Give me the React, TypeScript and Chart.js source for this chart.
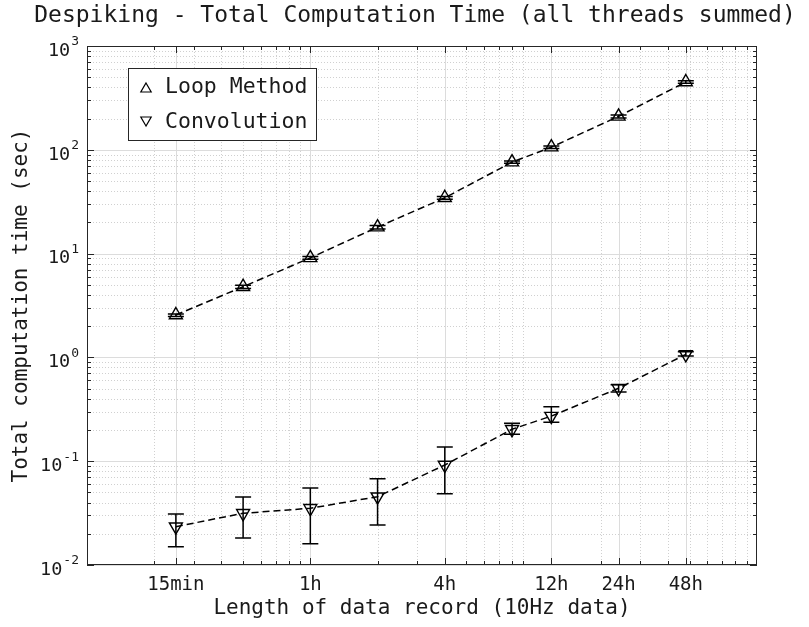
import React, { useEffect, useRef } from 'react';
import { Chart, registerables } from 'chart.js';

Chart.register(...registerables);

// ---- data ----
const xHours = [0.25, 0.5, 1, 2, 4, 8, 12, 24, 48];
const xTickValues = [0.25, 1, 4, 12, 24, 48];
const xTickLabels = ['15min', '1h', '4h', '12h', '24h', '48h'];
const yTickExponents = [-2, -1, 0, 1, 2, 3];

const loopMean = [2.56, 4.8, 9.1, 18.0, 34.5, 76, 106, 210, 450];
const loopLow = [2.48, 4.62, 8.8, 17.3, 33.4, 74, 103, 203, 437];
const loopHigh = [2.62, 4.95, 9.4, 18.6, 35.5, 78, 109, 216, 462];

const convMean = [0.0234, 0.0315, 0.0352, 0.0455, 0.0919, 0.203, 0.272, 0.504, 1.07];
const convLow = [0.015, 0.0182, 0.016, 0.0243, 0.0486, 0.182, 0.237, 0.464, 1.03];
const convHigh = [0.031, 0.0452, 0.0552, 0.0678, 0.137, 0.232, 0.335, 0.546, 1.135];

const seriesNames = ['Loop Method', 'Convolution'];
const titleText = 'Despiking - Total Computation Time (all threads summed)';
const xAxisTitle = 'Length of data record (10Hz data)';
const yAxisTitle = 'Total computation time (sec)';

const FONT = '"DejaVu Sans Mono", "Liberation Mono", monospace';
const TXT = '#1a1a1a';
const AX = '#262626';

function triPath(ctx: CanvasRenderingContext2D, x: number, y: number, r: number, down: boolean) {
  let rad = down ? Math.PI : 0;
  ctx.beginPath();
  for (let i = 0; i < 3; i++) {
    const px = x + Math.sin(rad) * r;
    const py = y - Math.cos(rad) * r;
    if (i === 0) ctx.moveTo(px, py); else ctx.lineTo(px, py);
    rad += (2 * Math.PI) / 3;
  }
  ctx.closePath();
}

const decorPlugin = {
  id: 'decor',
  beforeDraw(chart: any) {
    const ctx = chart.ctx;
    ctx.save();
    ctx.fillStyle = '#ffffff';
    ctx.fillRect(0, 0, chart.width, chart.height);
    ctx.restore();
  },
  beforeDatasetsDraw(chart: any) {
    const ctx = chart.ctx as CanvasRenderingContext2D;
    const { left, right, top, bottom } = chart.chartArea;
    const xs = chart.scales.x;
    const ys = chart.scales.y;
    ctx.save();
    // minor grid (dotted)
    ctx.strokeStyle = '#d0d0d0';
    ctx.lineWidth = 1;
    ctx.setLineDash([1, 2]);
    for (let n = -1; n <= 1; n++) {
      for (let k = 2; k <= 9; k++) {
        const v = k * Math.pow(10, n);
        if (xTickValues.some((t) => Math.abs(t - v) < 1e-9)) continue;
        const px = Math.round(xs.getPixelForValue(v)) + 0.5;
        ctx.beginPath(); ctx.moveTo(px, top); ctx.lineTo(px, bottom); ctx.stroke();
      }
    }
    for (let n = -2; n <= 2; n++) {
      for (let k = 2; k <= 9; k++) {
        const v = k * Math.pow(10, n);
        const py = Math.round(ys.getPixelForValue(v)) + 0.5;
        ctx.beginPath(); ctx.moveTo(left, py); ctx.lineTo(right, py); ctx.stroke();
      }
    }
    // major grid (solid)
    ctx.setLineDash([]);
    ctx.strokeStyle = '#dcdcdc';
    xTickValues.forEach((v) => {
      const px = Math.round(xs.getPixelForValue(v)) + 0.5;
      ctx.beginPath(); ctx.moveTo(px, top); ctx.lineTo(px, bottom); ctx.stroke();
    });
    yTickExponents.forEach((e) => {
      const py = Math.round(ys.getPixelForValue(Math.pow(10, e))) + 0.5;
      ctx.beginPath(); ctx.moveTo(left, py); ctx.lineTo(right, py); ctx.stroke();
    });
    ctx.restore();
  },
  afterDatasetsDraw(chart: any) {
    const ctx = chart.ctx as CanvasRenderingContext2D;
    const { left, right, top, bottom } = chart.chartArea;
    const xs = chart.scales.x;
    const ys = chart.scales.y;
    ctx.save();
    // error bars
    ctx.strokeStyle = '#000000';
    ctx.lineWidth = 1.5;
    ctx.setLineDash([]);
    const cap = 8;
    const drawErr = (lo: number[], hi: number[]) => {
      xHours.forEach((xv, i) => {
        const px = xs.getPixelForValue(xv);
        const pl = ys.getPixelForValue(lo[i]);
        const ph = ys.getPixelForValue(hi[i]);
        ctx.beginPath();
        ctx.moveTo(px, pl); ctx.lineTo(px, ph);
        ctx.moveTo(px - cap, pl); ctx.lineTo(px + cap, pl);
        ctx.moveTo(px - cap, ph); ctx.lineTo(px + cap, ph);
        ctx.stroke();
      });
    };
    drawErr(loopLow, loopHigh);
    drawErr(convLow, convHigh);

    // axes box
    ctx.strokeStyle = AX;
    ctx.lineWidth = 1;
    ctx.strokeRect(left + 0.5, top + 0.5, right - left - 1, bottom - top - 1);

    // ticks
    ctx.beginPath();
    const xTick = (v: number, len: number) => {
      const px = Math.round(xs.getPixelForValue(v)) + 0.5;
      ctx.moveTo(px, bottom); ctx.lineTo(px, bottom - len);
      ctx.moveTo(px, top); ctx.lineTo(px, top + len);
    };
    const yTick = (v: number, len: number) => {
      const py = Math.round(ys.getPixelForValue(v)) + 0.5;
      ctx.moveTo(left, py); ctx.lineTo(left + len, py);
      ctx.moveTo(right, py); ctx.lineTo(right - len, py);
    };
    for (let n = -1; n <= 1; n++) for (let k = 2; k <= 9; k++) xTick(k * Math.pow(10, n), 4);
    xTickValues.forEach((v) => xTick(v, 7));
    for (let n = -2; n <= 2; n++) for (let k = 2; k <= 9; k++) yTick(k * Math.pow(10, n), 4);
    yTickExponents.forEach((e) => yTick(Math.pow(10, e), 7));
    ctx.stroke();

    // x tick labels
    ctx.fillStyle = TXT;
    ctx.font = `19px ${FONT}`;
    ctx.textAlign = 'center';
    ctx.textBaseline = 'middle';
    xTickValues.forEach((v, i) => {
      ctx.fillText(xTickLabels[i], xs.getPixelForValue(v), bottom + 20);
    });

    // y tick labels with superscripts
    yTickExponents.forEach((e) => {
      const py = ys.getPixelForValue(Math.pow(10, e));
      ctx.font = `18.5px ${FONT}`;
      const w1 = ctx.measureText('10').width;
      ctx.font = `13px ${FONT}`;
      const sup = String(e);
      const w2 = ctx.measureText(sup).width;
      const xEnd = left - 8;
      ctx.textAlign = 'left';
      ctx.font = `18.5px ${FONT}`;
      ctx.fillText('10', xEnd - w2 - w1 - 1, py + 5);
      ctx.font = `13px ${FONT}`;
      ctx.fillText(sup, xEnd - w2, py - 4);
    });

    // axis titles
    ctx.font = `21px ${FONT}`;
    ctx.textAlign = 'center';
    ctx.fillText(xAxisTitle, (left + right) / 2, bottom + 44);
    ctx.save();
    ctx.translate(22, (top + bottom) / 2);
    ctx.rotate(-Math.PI / 2);
    ctx.fillText(yAxisTitle, 0, 0);
    ctx.restore();

    // title
    ctx.font = `23px ${FONT}`;
    ctx.fillText(titleText, (left + right) / 2 - 7, 16);

    // legend
    const lx = 128.5, ly = 68.5, lw = 188, lh = 72;
    ctx.fillStyle = '#ffffff';
    ctx.fillRect(lx, ly, lw, lh);
    ctx.strokeStyle = AX;
    ctx.lineWidth = 1;
    ctx.strokeRect(lx, ly, lw, lh);
    ctx.strokeStyle = '#000000';
    ctx.lineWidth = 1.2;
    triPath(ctx, 146, 89, 6, false); ctx.stroke();
    triPath(ctx, 146, 120, 6, true); ctx.stroke();
    ctx.fillStyle = TXT;
    ctx.font = `21.5px ${FONT}`;
    ctx.textAlign = 'left';
    ctx.fillText(seriesNames[0], 165, 87.5);
    ctx.fillText(seriesNames[1], 165, 122);
    ctx.restore();
  },
};

export default function App() {
  const ref = useRef<HTMLCanvasElement | null>(null);
  useEffect(() => {
    if (!ref.current) return;
    const mk = (ys: number[]) => xHours.map((x, i) => ({ x, y: ys[i] }));
    const common = {
      borderColor: '#000000',
      backgroundColor: 'rgba(0,0,0,0)',
      borderWidth: 1.5,
      borderDash: [7, 4],
      pointStyle: 'triangle',
      pointRadius: 7.5,
      pointBorderWidth: 1.4,
      pointBorderColor: '#000000',
      pointBackgroundColor: 'rgba(0,0,0,0)',
      tension: 0,
      fill: false,
    };
    const chart = new Chart(ref.current, {
      type: 'line',
      data: {
        datasets: [
          { ...common, label: seriesNames[0], data: mk(loopMean), pointRotation: 0 } as any,
          { ...common, label: seriesNames[1], data: mk(convMean), pointRotation: 180 } as any,
        ],
      },
      options: {
        responsive: false,
        animation: false,
        events: [],
        layout: { padding: { left: 87, right: 52, top: 46, bottom: 62 } },
        plugins: { legend: { display: false }, title: { display: false }, tooltip: { enabled: false } },
        scales: {
          x: { type: 'logarithmic', min: 0.1, max: 100, display: false },
          y: { type: 'logarithmic', min: 0.01, max: 1000, display: false },
        },
      },
      plugins: [decorPlugin],
    });
    return () => chart.destroy();
  }, []);
  return (
    <div style={{ position: 'fixed', left: 0, top: 0, width: 809, height: 627, background: '#fff' }}>
      <canvas ref={ref} width={809} height={627} style={{ display: 'block' }} />
    </div>
  );
}
